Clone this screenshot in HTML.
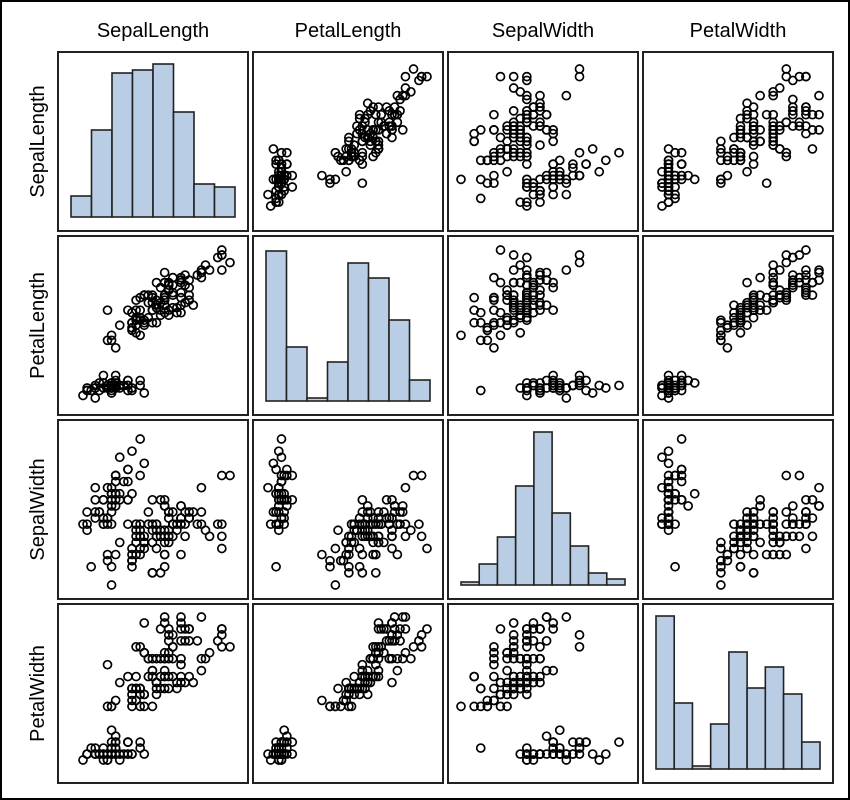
<!DOCTYPE html>
<html><head><meta charset="utf-8"><style>
body{margin:0;background:#fff}
svg{display:block;font-family:"Liberation Sans",sans-serif}
</style></head><body>
<svg id="chart" width="850" height="800" viewBox="0 0 850 800">
<rect x="1" y="1" width="848" height="798" fill="#fff" stroke="#000" stroke-width="2"/>
</svg>
<script>
const varNames = ["SepalLength","PetalLength","SepalWidth","PetalWidth"];
// iris rows: [SepalLength, SepalWidth, PetalLength, PetalWidth]
const irisRows = [
[5.1,3.5,1.4,0.2],[4.9,3.0,1.4,0.2],[4.7,3.2,1.3,0.2],[4.6,3.1,1.5,0.2],[5.0,3.6,1.4,0.2],[5.4,3.9,1.7,0.4],[4.6,3.4,1.4,0.3],[5.0,3.4,1.5,0.2],[4.4,2.9,1.4,0.2],[4.9,3.1,1.5,0.1],
[5.4,3.7,1.5,0.2],[4.8,3.4,1.6,0.2],[4.8,3.0,1.4,0.1],[4.3,3.0,1.1,0.1],[5.8,4.0,1.2,0.2],[5.7,4.4,1.5,0.4],[5.4,3.9,1.3,0.4],[5.1,3.5,1.4,0.3],[5.7,3.8,1.7,0.3],[5.1,3.8,1.5,0.3],
[5.4,3.4,1.7,0.2],[5.1,3.7,1.5,0.4],[4.6,3.6,1.0,0.2],[5.1,3.3,1.7,0.5],[4.8,3.4,1.9,0.2],[5.0,3.0,1.6,0.2],[5.0,3.4,1.6,0.4],[5.2,3.5,1.5,0.2],[5.2,3.4,1.4,0.2],[4.7,3.2,1.6,0.2],
[4.8,3.1,1.6,0.2],[5.4,3.4,1.5,0.4],[5.2,4.1,1.5,0.1],[5.5,4.2,1.4,0.2],[4.9,3.1,1.5,0.2],[5.0,3.2,1.2,0.2],[5.5,3.5,1.3,0.2],[4.9,3.6,1.4,0.1],[4.4,3.0,1.3,0.2],[5.1,3.4,1.5,0.2],
[5.0,3.5,1.3,0.3],[4.5,2.3,1.3,0.3],[4.4,3.2,1.3,0.2],[5.0,3.5,1.6,0.6],[5.1,3.8,1.9,0.4],[4.8,3.0,1.4,0.3],[5.1,3.8,1.6,0.2],[4.6,3.2,1.4,0.2],[5.3,3.7,1.5,0.2],[5.0,3.3,1.4,0.2],
[7.0,3.2,4.7,1.4],[6.4,3.2,4.5,1.5],[6.9,3.1,4.9,1.5],[5.5,2.3,4.0,1.3],[6.5,2.8,4.6,1.5],[5.7,2.8,4.5,1.3],[6.3,3.3,4.7,1.6],[4.9,2.4,3.3,1.0],[6.6,2.9,4.6,1.3],[5.2,2.7,3.9,1.4],
[5.0,2.0,3.5,1.0],[5.9,3.0,4.2,1.5],[6.0,2.2,4.0,1.0],[6.1,2.9,4.7,1.4],[5.6,2.9,3.6,1.3],[6.7,3.1,4.4,1.4],[5.6,3.0,4.5,1.5],[5.8,2.7,4.1,1.0],[6.2,2.2,4.5,1.5],[5.6,2.5,3.9,1.1],
[5.9,3.2,4.8,1.8],[6.1,2.8,4.0,1.3],[6.3,2.5,4.9,1.5],[6.1,2.8,4.7,1.2],[6.4,2.9,4.3,1.3],[6.6,3.0,4.4,1.4],[6.8,2.8,4.8,1.4],[6.7,3.0,5.0,1.7],[6.0,2.9,4.5,1.5],[5.7,2.6,3.5,1.0],
[5.5,2.4,3.8,1.1],[5.5,2.4,3.7,1.0],[5.8,2.7,3.9,1.2],[6.0,2.7,5.1,1.6],[5.4,3.0,4.5,1.5],[6.0,3.4,4.5,1.6],[6.7,3.1,4.7,1.5],[6.3,2.3,4.4,1.3],[5.6,3.0,4.1,1.3],[5.5,2.5,4.0,1.3],
[5.5,2.6,4.4,1.2],[6.1,3.0,4.6,1.4],[5.8,2.6,4.0,1.2],[5.0,2.3,3.3,1.0],[5.6,2.7,4.2,1.3],[5.7,3.0,4.2,1.2],[5.7,2.9,4.2,1.3],[6.2,2.9,4.3,1.3],[5.1,2.5,3.0,1.1],[5.7,2.8,4.1,1.3],
[6.3,3.3,6.0,2.5],[5.8,2.7,5.1,1.9],[7.1,3.0,5.9,2.1],[6.3,2.9,5.6,1.8],[6.5,3.0,5.8,2.2],[7.6,3.0,6.6,2.1],[4.9,2.5,4.5,1.7],[7.3,2.9,6.3,1.8],[6.7,2.5,5.8,1.8],[7.2,3.6,6.1,2.5],
[6.5,3.2,5.1,2.0],[6.4,2.7,5.3,1.9],[6.8,3.0,5.5,2.1],[5.7,2.5,5.0,2.0],[5.8,2.8,5.1,2.4],[6.4,3.2,5.3,2.3],[6.5,3.0,5.5,1.8],[7.7,3.8,6.7,2.2],[7.7,2.6,6.9,2.3],[6.0,2.2,5.0,1.5],
[6.9,3.2,5.7,2.3],[5.6,2.8,4.9,2.0],[7.7,2.8,6.7,2.0],[6.3,2.7,4.9,1.8],[6.7,3.3,5.7,2.1],[7.2,3.2,6.0,1.8],[6.2,2.8,4.8,1.8],[6.1,3.0,4.9,1.8],[6.4,2.8,5.6,2.1],[7.2,3.0,5.8,1.6],
[7.4,2.8,6.1,1.9],[7.9,3.8,6.4,2.0],[6.4,2.8,5.6,2.2],[6.3,2.8,5.1,1.5],[6.1,2.6,5.6,1.4],[7.7,3.0,6.1,2.3],[6.3,3.4,5.6,2.4],[6.4,3.1,5.5,1.8],[6.0,3.0,4.8,1.8],[6.9,3.1,5.4,2.1],
[6.7,3.1,5.6,2.4],[6.9,3.1,5.1,2.3],[5.8,2.7,5.1,1.9],[6.8,3.2,5.9,2.3],[6.7,3.3,5.7,2.5],[6.7,3.0,5.2,2.3],[6.3,2.5,5.0,1.9],[6.5,3.0,5.2,2.0],[6.2,3.4,5.4,2.3],[5.9,3.0,5.1,1.8]
];
// column index of each displayed variable in irisRows
const varCols = [0,2,1,3];
// histogram bin counts per variable (display order)
const histSepalLength = [7,29,48,49,51,35,11,10];
const histPetalLength = [50,18,1,13,46,41,27,7];
const histSepalWidth = [1,7,16,33,51,24,13,4,2];
const histPetalWidth = [51,22,1,15,39,27,34,25,9];
const hists = [histSepalLength,histPetalLength,histSepalWidth,histPetalWidth];

const NS="http://www.w3.org/2000/svg";
const svg=document.getElementById('chart');
const px0=[58,253,448,643], py0=[52,236,420,604], PW=190, PH=179;
const xOff=[[25,172],[15,174],[13,171],[19,176]];
const yOff=[[17,154],[14,162],[19,165],[13,156]];
function mk(tag,attrs){const e=document.createElementNS(NS,tag);for(const k in attrs)e.setAttribute(k,attrs[k]);return e;}
const ext=varCols.map(c=>{const v=irisRows.map(r=>r[c]);return [Math.min(...v),Math.max(...v)];});
function xScale(vi,v,ci){const[a,b]=ext[vi];return px0[ci]+xOff[vi][0]+(v-a)/(b-a)*(xOff[vi][1]-xOff[vi][0]);}
function yScale(vi,v,ri){const[a,b]=ext[vi];return py0[ri]+yOff[vi][1]-(v-a)/(b-a)*(yOff[vi][1]-yOff[vi][0]);}

for(let i=0;i<4;i++){
  const t=mk('text',{x:px0[i]+PW/2,y:37,'text-anchor':'middle','font-size':'20',fill:'#000'});
  t.textContent=varNames[i];
  
  
  svg.appendChild(t);
  const cy=py0[i]+PH/2;
  const r=mk('text',{x:44,y:cy,'text-anchor':'middle','font-size':'20',fill:'#000',transform:`rotate(-90 44 ${cy})`});
  r.textContent=varNames[i];
  
  
  svg.appendChild(r);
}
for(let ri=0;ri<4;ri++)for(let ci=0;ci<4;ci++){
  const g=mk('g',{});
  
  
  svg.appendChild(g);
  const fr=mk('rect',{x:px0[ci],y:py0[ri],width:PW,height:PH,fill:'#fff',stroke:'#222','stroke-width':2});
  
  
  g.appendChild(fr);
  if(ri===ci){
    const h=hists[ri], n=h.length, x0=px0[ci]+13, x1=px0[ci]+177, base=py0[ri]+165, bw=(x1-x0)/n;
    h.forEach((c,k)=>{
      const hh=c*3;
      const b=mk('rect',{x:x0+k*bw,y:base-hh,width:bw,height:hh,fill:'#b9cde5',stroke:'#222','stroke-width':1.6});
      
      
      g.appendChild(b);
    });
  } else {
    irisRows.forEach(r=>{
      const c=mk('circle',{cx:xScale(ci,r[varCols[ci]],ci),cy:yScale(ri,r[varCols[ri]],ri),r:4,fill:'none',stroke:'#000','stroke-width':1.7});
      
      
      g.appendChild(c);
    });
  }
}
</script>
</body></html>
